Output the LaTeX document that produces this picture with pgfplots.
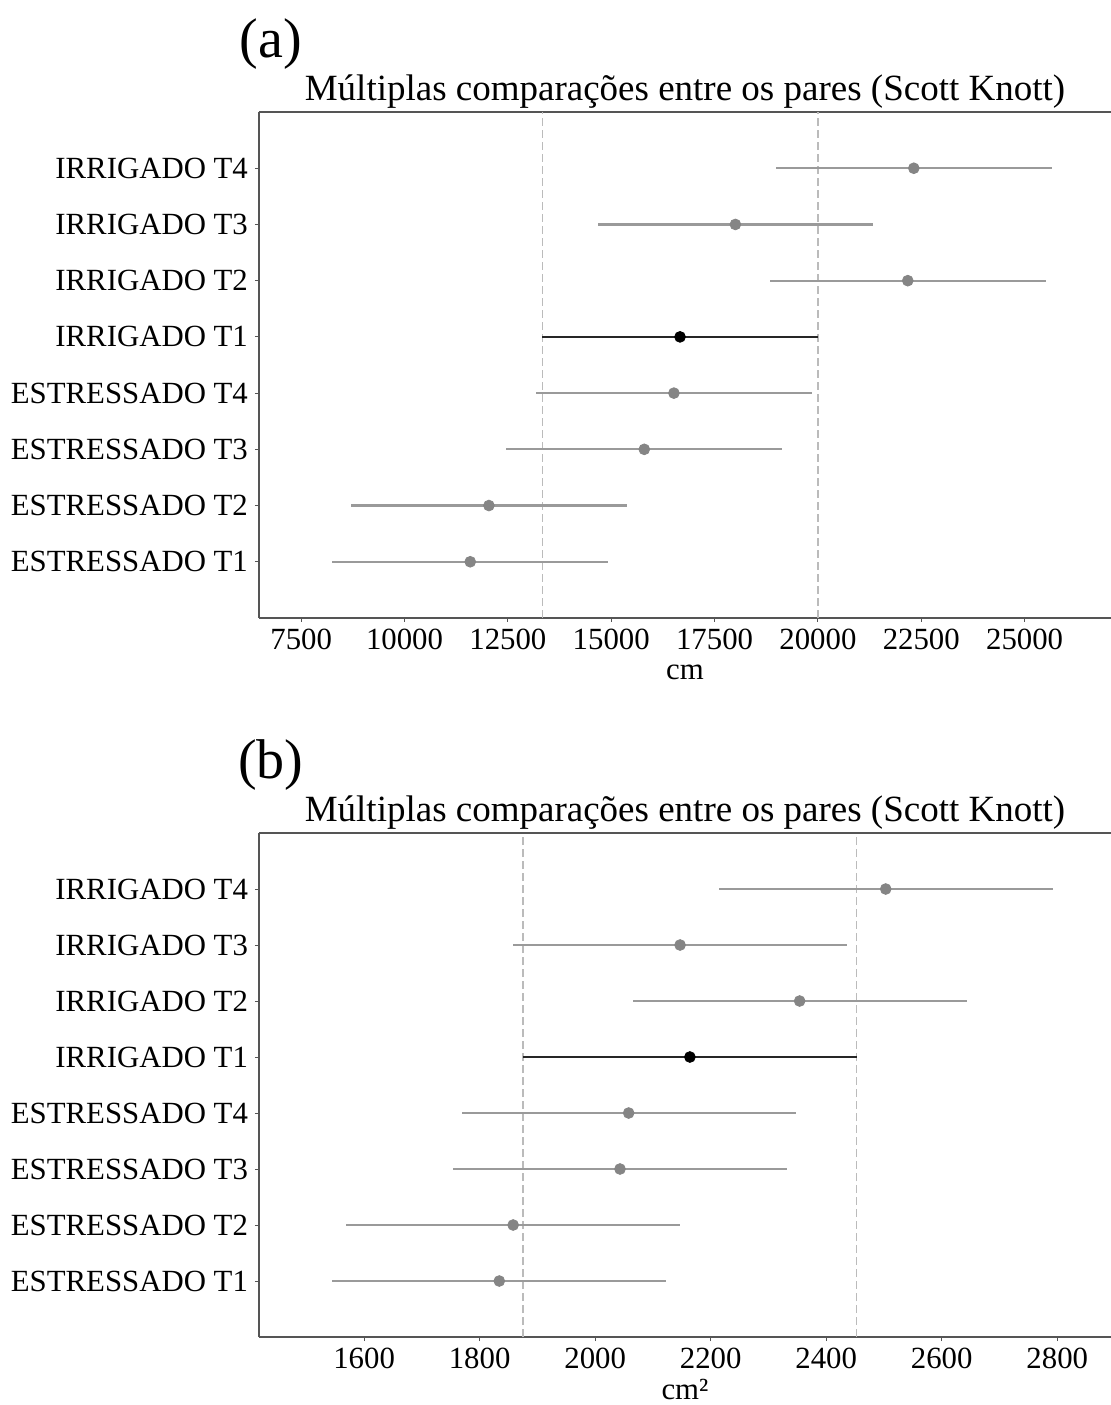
\documentclass[border=0pt]{standalone}
\usepackage{pgfplots}
\usepackage{pgfplotstable}
\pgfplotsset{compat=1.18}
\usepackage{fontspec}
\setmainfont{Liberation Serif}

\definecolor{ptgray}{HTML}{858585}
\definecolor{lngray}{HTML}{9A9A9A}
\definecolor{dashgray}{HTML}{BBBBBB}
\definecolor{spine}{HTML}{555555}

% panel (a): cm
\pgfplotstableread{
y x e
0 11590 3335
1 12042 3335
2 15800 3335
3 16517 3335
5 22174 3335
6 18004 3335
7 22320 3335
}\dataAgray
\pgfplotstableread{
y x e
4 16665 3335
}\dataAblack
% panel (b): cm2
\pgfplotstableread{
y x e
0 1834 289
1 1858 289
2 2043 289
3 2058 289
5 2354 289
6 2147 289
7 2503 289
}\dataBgray
\pgfplotstableread{
y x e
4 2164 289
}\dataBblack

\pgfplotsset{
  mcstyle/.style={
    scale only axis,
    width=426pt,
    height=253pt,
    ymin=-1, ymax=8,
    axis x line*=box,
    axis y line*=left,
    axis line style={spine, line width=0.6pt},
    xtick pos=bottom,
    ytick pos=left,
    tick align=outside,
    major tick length=2pt,
    tick style={spine, line width=0.5pt},
    ytick={0,1,2,3,4,5,6,7},
    yticklabels={ESTRESSADO T1,ESTRESSADO T2,ESTRESSADO T3,ESTRESSADO T4,IRRIGADO T1,IRRIGADO T2,IRRIGADO T3,IRRIGADO T4},
    ticklabel style={font=\fontsize{15.4}{18}\selectfont},
    scaled x ticks=false,
    /pgf/number format/assume math mode=true,
    /pgf/number format/1000 sep={},
    xlabel style={font=\fontsize{15.4}{18}\selectfont, at={(axis description cs:0.5,0)}, anchor=base, yshift=-31pt},
    title style={font=\fontsize{18.5}{22}\selectfont, at={(0.5,1)}, anchor=base, yshift=0pt},
    title={Múltiplas comparações entre os pares (Scott Knott)},
    clip=false,
  },
  grayci/.style={
    only marks, mark=*, mark size=2.7pt, color=ptgray,
    mark options={draw=ptgray, fill=ptgray},
    error bars/.cd, x dir=both, x explicit, error mark=none,
    error bar style={lngray, line width=1.1pt},
  },
  blackci/.style={
    only marks, mark=*, mark size=2.7pt, color=black,
    mark options={draw=black, fill=black},
    error bars/.cd, x dir=both, x explicit, error mark=none,
    error bar style={black!85, line width=1.3pt},
  },
  vdash/.style={dashgray, line width=0.6pt, dash pattern=on 4pt off 2pt, forget plot},
}

\begin{document}
\begin{tikzpicture}
\useasboundingbox (-129.5pt,56pt) rectangle (426pt,-646.5pt);

\begin{axis}[mcstyle, at={(0pt,0pt)}, anchor=north west,
  xmin=6480, xmax=27090,
  xtick={7500,10000,12500,15000,17500,20000,22500,25000},
  xlabel={cm}]
  \addplot[vdash] coordinates {(13330,-1) (13330,8)};
  \addplot[vdash] coordinates {(20000,-1) (20000,8)};
  \addplot[grayci] table[x=x, y=y, x error=e] {\dataAgray};
  \addplot[blackci] table[x=x, y=y, x error=e] {\dataAblack};
\end{axis}
\node[font=\fontsize{28}{32}\selectfont] at (6pt,34pt) {(a)};

\begin{axis}[mcstyle, at={(0pt,-360.5pt)}, anchor=north west,
  height=252pt,
  xmin=1418, xmax=2893,
  xtick={1600,1800,2000,2200,2400,2600,2800},
  xlabel={cm²}]
  \addplot[vdash] coordinates {(1875,-1) (1875,8)};
  \addplot[vdash] coordinates {(2453,-1) (2453,8)};
  \addplot[grayci] table[x=x, y=y, x error=e] {\dataBgray};
  \addplot[blackci] table[x=x, y=y, x error=e] {\dataBblack};
\end{axis}
\node[font=\fontsize{28}{32}\selectfont] at (6pt,-326.5pt) {(b)};
\end{tikzpicture}
\end{document}
